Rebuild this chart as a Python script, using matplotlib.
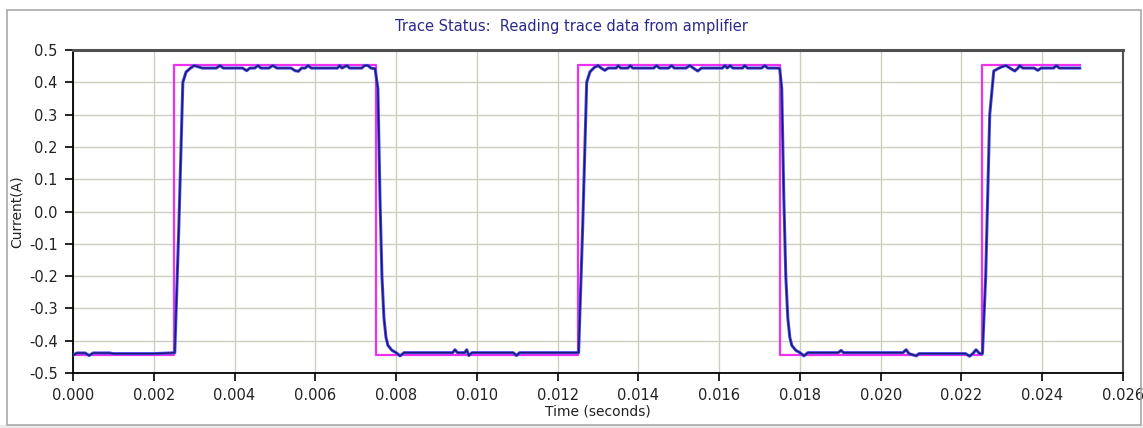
import numpy as np
import matplotlib
matplotlib.use("Agg")
import matplotlib.pyplot as plt
from matplotlib.patches import Rectangle
from matplotlib.ticker import FormatStrFormatter

plt.rcParams['axes.unicode_minus'] = False
plt.rcParams['font.family'] = ['DejaVu Sans']

# commanded current (step), times in ms
cmd_t_ms = [0.0, 2.5, 7.5, 12.5, 17.5, 22.5, 24.93]
cmd_i = [-0.445, 0.455, -0.445, 0.455, -0.445, 0.455, 0.455]

# measured current trace vertices, times in ms
meas_t_ms = [
    0.00, 0.10, 0.30, 0.40, 0.50, 0.90, 1.00, 2.00, 2.40, 2.52,
    2.62, 2.72, 2.80, 2.90, 3.00, 3.10, 3.20, 3.55, 3.64, 3.72,
    4.20, 4.30, 4.38, 4.50, 4.58, 4.65, 4.85, 4.95, 5.05, 5.40,
    5.50, 5.58, 5.66, 5.75, 5.82, 5.90, 6.55, 6.60, 6.66, 6.78,
    6.85, 7.15, 7.22, 7.30, 7.38, 7.48,
    7.55, 7.60, 7.65, 7.70, 7.75, 7.80, 7.90, 8.00, 8.10, 8.20,
    9.40, 9.46, 9.52, 9.70, 9.75, 9.80, 9.88, 10.90, 10.98, 11.06,
    12.40, 12.52,
    12.62, 12.72, 12.80, 12.90, 13.00, 13.08, 13.17, 13.25, 13.45, 13.50,
    13.56, 13.74, 13.80, 13.86, 14.38, 14.45, 14.52, 14.75, 14.82, 14.89,
    15.18, 15.27, 15.36, 15.47, 15.56, 16.08, 16.14, 16.20, 16.27, 16.34,
    16.58, 16.63, 16.70, 17.05, 17.13, 17.20, 17.45, 17.50,
    17.55, 17.60, 17.65, 17.70, 17.75, 17.80, 17.90, 18.00, 18.10, 18.20,
    18.95, 19.02, 19.08, 20.55, 20.63, 20.70, 20.88, 20.95, 22.10, 22.20,
    22.28, 22.36, 22.45, 22.52,
    22.60, 22.70, 22.80, 22.90, 23.00, 23.10, 23.20, 23.32, 23.40, 23.44,
    23.52, 23.80, 23.89, 23.97, 24.28, 24.35, 24.42, 24.93,
]
meas_i = [
    -0.445, -0.438, -0.438, -0.446, -0.438, -0.438, -0.440, -0.440, -0.438, -0.437,
    -0.05, 0.40, 0.432, 0.443, 0.452, 0.448, 0.444, 0.444, 0.452, 0.444,
    0.444, 0.436, 0.444, 0.444, 0.452, 0.444, 0.444, 0.452, 0.444, 0.444,
    0.436, 0.434, 0.444, 0.444, 0.452, 0.444, 0.444, 0.452, 0.444, 0.452,
    0.444, 0.444, 0.452, 0.452, 0.444, 0.442,
    0.38, 0.05, -0.20, -0.33, -0.39, -0.415, -0.43, -0.437, -0.447, -0.437,
    -0.437, -0.428, -0.437, -0.437, -0.428, -0.446, -0.437, -0.437, -0.446, -0.437,
    -0.437, -0.437,
    -0.05, 0.40, 0.432, 0.445, 0.452, 0.444, 0.437, 0.444, 0.444, 0.452,
    0.444, 0.444, 0.452, 0.444, 0.444, 0.452, 0.444, 0.444, 0.452, 0.444,
    0.444, 0.452, 0.444, 0.435, 0.444, 0.444, 0.452, 0.444, 0.452, 0.444,
    0.444, 0.452, 0.444, 0.444, 0.452, 0.444, 0.444, 0.442,
    0.38, 0.05, -0.20, -0.33, -0.39, -0.415, -0.43, -0.437, -0.447, -0.437,
    -0.437, -0.43, -0.437, -0.437, -0.428, -0.44, -0.447, -0.44, -0.44, -0.448,
    -0.44, -0.428, -0.44, -0.44,
    -0.20, 0.30, 0.435, 0.442, 0.448, 0.452, 0.444, 0.435, 0.444, 0.452,
    0.444, 0.444, 0.437, 0.444, 0.444, 0.452, 0.444, 0.444,
]

x_ticks = [0.000, 0.002, 0.004, 0.006, 0.008, 0.010, 0.012, 0.014,
           0.016, 0.018, 0.020, 0.022, 0.024, 0.026]
y_ticks = [-0.5, -0.4, -0.3, -0.2, -0.1, 0.0, 0.1, 0.2, 0.3, 0.4, 0.5]

cmd_t = np.array(cmd_t_ms) / 1000.0
meas_t = np.array(meas_t_ms) / 1000.0

fig = plt.figure(figsize=(11.43, 4.28), dpi=100)
fig.patch.set_facecolor('white')
# window frame and grey strip at the bottom
fig.patches.append(Rectangle((0, 0), 1, 3 / 428, transform=fig.transFigure,
                             facecolor='#ececec', edgecolor='none', zorder=0))
fig.patches.append(Rectangle((7 / 1143, 3 / 428), 1134 / 1143, 415 / 428,
                             transform=fig.transFigure, facecolor='none',
                             edgecolor='#a8a8a8', linewidth=1.2, zorder=1))

ax = fig.add_axes([73 / 1143, 1 - 373 / 428, 1050 / 1143, 323 / 428])

ax.plot(cmd_t, cmd_i, drawstyle='steps-post', color='#f030f0', linewidth=1.6, zorder=3)
ax.plot(meas_t, meas_i, color='#4a4af0', linewidth=2.2, zorder=4)
ax.plot(meas_t, meas_i, color='#1a1a70', linewidth=1.0, zorder=5)

ax.set_xlim(0, 0.026)
ax.set_ylim(-0.5, 0.5)
ax.set_xticks(x_ticks)
ax.set_yticks(y_ticks)
ax.xaxis.set_major_formatter(FormatStrFormatter('%.3f'))
ax.yaxis.set_major_formatter(FormatStrFormatter('%.1f'))
ax.tick_params(direction='out', length=6, width=1.2, labelsize=10.5,
               colors='black', labelcolor='#222222', pad=5)
ax.grid(True, color='#cdcdc0', linewidth=1.0)
ax.set_axisbelow(True)

ax.spines['left'].set_color('black')
ax.spines['bottom'].set_color('black')
ax.spines['left'].set_linewidth(1.3)
ax.spines['bottom'].set_linewidth(1.3)
ax.spines['top'].set_color('#505050')
ax.spines['top'].set_linewidth(2.2)
ax.spines['right'].set_color('#505050')
ax.spines['right'].set_linewidth(1.5)

ax.set_xlabel('Time (seconds)', fontsize=10, labelpad=1, color='#222222')
ax.set_ylabel('Current(A)', fontsize=10, labelpad=4, color='#222222')

fig.text(0.5, 1 - 26 / 428, 'Trace Status:  Reading trace data from amplifier',
         ha='center', va='center', fontsize=10.5, color='#2a2a8c')

fig.savefig('out.png', dpi=100)
